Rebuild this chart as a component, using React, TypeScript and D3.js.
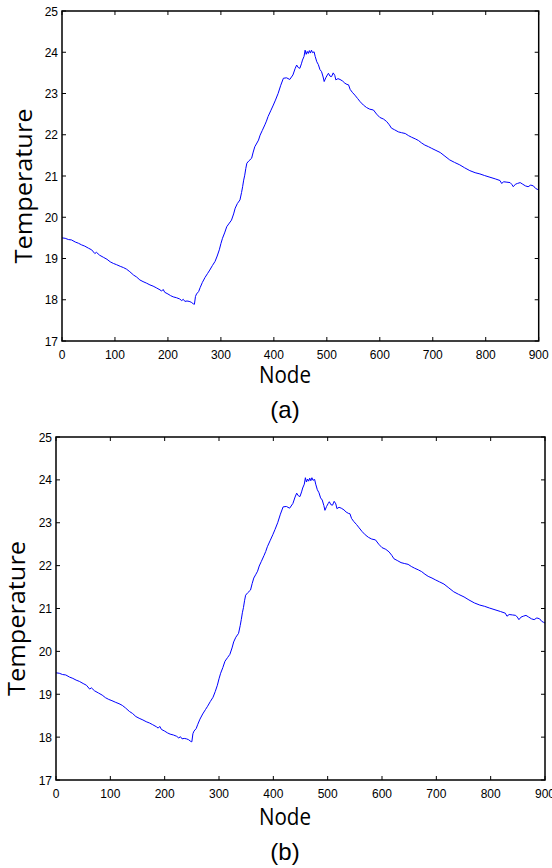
import React from "react";
import * as d3 from "d3";

const nodes = [0,6,12,18,25,31,37,43,50,56,62,65,71,78,85,91,97,103,110,116,122,128,135,141,147,153,160,166,172,178,185,188,191,194,200,205,210,216,222,226,229,232,236,240,244,248,250,252,254,258,261,265,270,275,279,284,289,293,297,300,303,307,311,316,320,324,327,331,336,339,341,343,345,347,349,353,358,361,364,368,371,374,378,383,386,389,394,399,403,408,413,418,424,430,436,440,443,446,449,452,454,457,459,461,463,465,467,469,471,473,476,478,481,484,487,490,493,495,498,501,503,506,509,512,515,517,521,525,530,534,538,541,544,548,553,558,563,569,575,581,588,594,600,607,613,618,622,628,635,641,648,654,660,667,673,679,685,692,698,706,714,723,732,741,751,760,770,780,789,798,808,818,827,830,834,840,846,849,852,856,860,865,870,875,880,885,890,894,897,900];
const temps = [19.50,19.49,19.46,19.45,19.40,19.37,19.33,19.30,19.25,19.21,19.12,19.15,19.08,19.03,18.98,18.92,18.88,18.85,18.81,18.78,18.74,18.68,18.60,18.55,18.48,18.44,18.40,18.36,18.33,18.29,18.24,18.21,18.25,18.18,18.14,18.10,18.07,18.05,18.02,17.98,18.01,17.96,17.97,17.96,17.94,17.90,17.89,18.08,18.14,18.20,18.30,18.42,18.54,18.64,18.72,18.83,18.93,19.06,19.21,19.36,19.49,19.62,19.77,19.86,19.93,20.08,20.22,20.33,20.42,20.60,20.74,20.90,21.02,21.18,21.31,21.37,21.43,21.58,21.71,21.80,21.87,21.99,22.10,22.24,22.33,22.44,22.58,22.72,22.84,23.00,23.20,23.37,23.38,23.34,23.45,23.60,23.69,23.63,23.61,23.72,23.81,23.90,24.05,23.95,24.02,23.97,24.04,23.98,24.05,23.99,24.01,23.90,23.77,23.70,23.58,23.53,23.40,23.29,23.38,23.45,23.49,23.42,23.41,23.50,23.44,23.33,23.36,23.34,23.30,23.25,23.22,23.21,23.10,23.03,22.96,22.88,22.80,22.72,22.66,22.62,22.60,22.50,22.42,22.38,22.32,22.24,22.16,22.12,22.07,22.05,22.03,21.98,21.94,21.90,21.86,21.80,21.75,21.71,21.67,21.62,21.57,21.48,21.39,21.33,21.27,21.20,21.13,21.08,21.05,21.01,20.97,20.93,20.89,20.82,20.86,20.85,20.84,20.80,20.74,20.80,20.82,20.84,20.80,20.76,20.74,20.78,20.76,20.70,20.68,20.66];

const xTicks = [0,100,200,300,400,500,600,700,800,900];
const yTicks = [17,18,19,20,21,22,23,24,25];
const xLabel = "Node";
const yLabel = "Temperature";
const panelLabels = ["(a)", "(b)"];

type PanelProps = {
  left: number; right: number; top: number; bottom: number;
  yLabelX: number; nodeY: number; capY: number; caption: string;
};

function Panel({ left, right, top, bottom, yLabelX, nodeY, capY, caption }: PanelProps) {
  const x = d3.scaleLinear().domain([0, 900]).range([left, right]);
  const y = d3.scaleLinear().domain([17, 25]).range([bottom, top]);
  const pts = nodes.map((n, i) => [n, temps[i]] as [number, number]);
  const path = d3.line<[number, number]>().x(d => x(d[0])).y(d => y(d[1]))(pts) || "";
  const tl = 4;
  const cx = 285;
  return (
    <g>
      <path d={path} fill="none" stroke="#0000ff" strokeWidth={1} />
      {xTicks.map(t => (
        <g key={"x" + t}>
          <line x1={x(t)} x2={x(t)} y1={bottom} y2={bottom - tl} stroke="#000" strokeWidth={1} />
          <line x1={x(t)} x2={x(t)} y1={top} y2={top + tl} stroke="#000" strokeWidth={1} />
          <text x={x(t)} y={bottom + 18} textAnchor="middle" fontFamily="Liberation Sans, Arial, sans-serif" fontSize={12} fill="#000">{t}</text>
        </g>
      ))}
      {yTicks.map(t => (
        <g key={"y" + t}>
          <line x1={left} x2={left + tl} y1={y(t)} y2={y(t)} stroke="#000" strokeWidth={1} />
          <line x1={right} x2={right - tl} y1={y(t)} y2={y(t)} stroke="#000" strokeWidth={1} />
          <text x={left - 4} y={y(t) + 4.5} textAnchor="end" fontFamily="Liberation Sans, Arial, sans-serif" fontSize={12} fill="#000">{t}</text>
        </g>
      ))}
      <rect x={left} y={top} width={right - left} height={bottom - top} fill="none" stroke="#000" strokeWidth={1.5} />
      <text x={cx} y={nodeY} textAnchor="middle" fontFamily="Open Sans, sans-serif" fontSize={23} textLength={52} lengthAdjust="spacingAndGlyphs" fill="#000">{xLabel}</text>
      <text transform={`translate(${yLabelX},${(top + bottom) / 2 + 10}) rotate(-90)`} textAnchor="middle" fontFamily="Open Sans, sans-serif" fontSize={23} textLength={155} lengthAdjust="spacingAndGlyphs" fill="#000">{yLabel}</text>
      <text x={cx} y={capY} textAnchor="middle" fontFamily="Liberation Sans, Arial, sans-serif" fontSize={24} fill="#000">{caption}</text>
    </g>
  );
}

export default function App() {
  return (
    <svg width={552} height={868} style={{ position: "absolute", left: 0, top: 0, background: "#fff" }}>
      <rect width={552} height={868} fill="#fff" />
      <Panel left={62} right={538.7} top={11} bottom={341} yLabelX={32} nodeY={383} capY={418} caption={panelLabels[0]} />
      <Panel left={56} right={545} top={437} bottom={780} yLabelX={25} nodeY={825} capY={860} caption={panelLabels[1]} />
    </svg>
  );
}
